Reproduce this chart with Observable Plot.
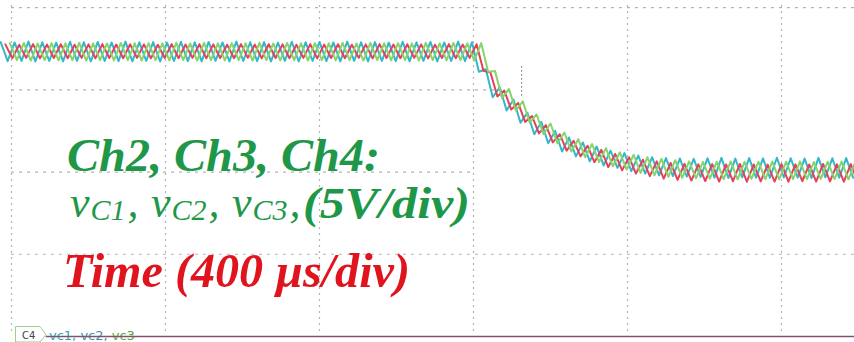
<!DOCTYPE html>
<html>
<head>
<meta charset="utf-8">
<script src="https://cdn.jsdelivr.net/npm/d3@7"></script>
<script src="https://cdn.jsdelivr.net/npm/@observablehq/plot@0.6"></script>
<style>
  html, body { margin: 0; padding: 0; background: #fff; }
  #wrap { position: relative; width: 854px; height: 342px; overflow: hidden; background: #fff; }
</style>
</head>
<body>
<div id="wrap"></div>
<script>
// ---- acquisition (time in µs, 400 µs/div; voltage in V, 5 V/div) ----
const sampleStartUs = -28;
const sampleStepUs = 18;
const channelNames = ["vc1", "vc2", "vc3"];
const channelOffsetUs = [0, 12, 24];
const channelColors = ["#32b8c9", "#e5405c", "#86d46a"];

// vertex voltages (alternating ripple peaks / troughs)
const vc1 = [
  17.90,16.74,17.88,16.76,17.93,16.72,17.89,16.75,17.87,16.73,
  17.92,16.76,17.89,16.72,17.91,16.75,17.88,16.74,17.93,16.73,
  17.89,16.76,17.90,16.72,17.87,16.75,17.92,16.74,17.89,16.73,
  17.91,16.76,17.88,16.72,17.93,16.75,17.89,16.74,17.90,16.73,
  17.87,16.76,17.92,16.72,17.89,16.75,17.91,16.74,17.88,16.73,
  17.93,16.76,17.89,16.72,17.90,16.75,17.87,16.74,17.92,16.73,
  17.89,16.76,17.91,16.72,17.88,16.75,17.93,16.74,17.89,
  16.10,16.25,14.55,15.15,13.75,14.40,13.00,13.60,12.30,13.05,
  11.75,12.50,11.25,12.10,10.95,11.80,10.65,11.55,10.40,11.30,
  10.25,11.15,10.05,11.00,9.90,10.90,9.80,10.85,9.75,10.82,
  9.72,10.80,9.70,
  10.84,9.66,10.86,9.64,10.82,9.68,10.85,9.66,10.83,9.65,
  10.87,9.67,10.84,9.66,10.82,9.64,10.86,9.68,10.84,9.66,
  10.85,9.65
];
const vc2 = [
  17.76,16.92,17.74,16.94,17.78,16.91,17.75,16.93,17.77,16.92,
  17.74,16.94,17.76,16.91,17.78,16.93,17.75,16.92,17.77,16.94,
  17.76,16.91,17.74,16.93,17.78,16.92,17.75,16.94,17.77,16.91,
  17.76,16.93,17.74,16.92,17.78,16.94,17.75,16.91,17.77,16.93,
  17.76,16.92,17.74,16.94,17.78,16.91,17.75,16.93,17.77,16.92,
  17.74,16.94,17.76,16.91,17.78,16.93,17.75,16.92,17.77,16.94,
  17.76,16.91,17.74,16.93,17.78,16.92,17.75,16.94,17.77,
  16.15,16.05,14.60,14.95,13.80,14.20,13.05,13.40,12.35,12.85,
  11.80,12.30,11.30,11.90,10.95,11.60,10.60,11.35,10.30,11.10,
  10.10,10.90,9.90,10.75,9.75,10.65,9.60,10.55,9.52,10.50,
  9.48,10.47,9.45,
  10.48,9.42,10.46,9.44,10.49,9.41,10.47,9.43,10.45,9.42,
  10.48,9.41,10.47,9.44,10.46,9.42,10.49,9.43,10.47,9.41,
  10.48,9.42
];
const vc3 = [
  17.83,16.80,17.85,16.78,17.82,16.81,17.84,16.79,17.83,16.80,
  17.86,16.78,17.83,16.81,17.82,16.79,17.85,16.80,17.83,16.78,
  17.84,16.81,17.83,16.79,17.86,16.80,17.82,16.78,17.85,16.81,
  17.83,16.79,17.84,16.80,17.83,16.78,17.86,16.81,17.82,16.79,
  17.85,16.80,17.83,16.78,17.84,16.81,17.83,16.79,17.86,16.80,
  17.82,16.78,17.85,16.81,17.83,16.79,17.84,16.80,17.83,16.78,
  17.86,16.81,17.82,16.79,17.85,16.80,17.83,16.78,17.84,
  16.10,16.15,14.50,15.05,13.75,14.30,13.00,13.50,12.30,12.95,
  11.75,12.40,11.25,12.00,10.90,11.70,10.60,11.45,10.35,11.20,
  10.15,11.05,9.95,10.90,9.80,10.80,9.70,10.72,9.65,10.65,
  9.62,10.62,9.60,
  10.63,9.57,10.65,9.55,10.62,9.58,10.63,9.57,10.64,9.56,
  10.63,9.57,10.65,9.57,10.61,9.58,10.63,9.57,10.64,9.56,
  10.63,9.57
];
const channelValues = [vc1, vc2, vc3];

// graticule
const xDivUs = [0, 400, 800, 1200, 1600, 2000];
const yDivV = [20, 15, 10, 5];
const yDivEndUs = [2200, 1300, 1200, 2200];
const groundV = 0;
const cursorUs = 1325;
const cursorSpanV = [14.6, 16.5];

// ---- build the table ----
const rows = [];
channelNames.forEach((ch, i) => {
  channelValues[i].forEach((v, k) => {
    rows.push({ch, t: sampleStartUs + channelOffsetUs[i] + k * sampleStepUs, v});
  });
});
const gridRows = yDivV.map((v, i) => ({v, x2: yDivEndUs[i]}));

const gridStroke = "#b4b4b4";
const plot = Plot.plot({
  width: 854,
  height: 342,
  margin: 0,
  style: {background: "#fff", overflow: "hidden"},
  x: {domain: [-28.6, 2189.6], axis: null},
  y: {domain: [-0.365, 20.43], axis: null},
  color: {domain: channelNames, range: channelColors},
  marks: [
    Plot.ruleX(xDivUs, {stroke: gridStroke, strokeWidth: 1.2, strokeDasharray: "2,4", y1: 0.3, y2: 20.2}),
    Plot.ruleY(gridRows, {y: "v", x1: 0, x2: "x2", stroke: gridStroke, strokeWidth: 1.2, strokeDasharray: "3,5"}),
    Plot.ruleX([cursorUs], {y1: cursorSpanV[0], y2: cursorSpanV[1], stroke: "#888", strokeWidth: 1, strokeDasharray: "2,2"}),
    Plot.line(rows, {x: "t", y: "v", z: "ch", stroke: "ch", strokeWidth: 2, clip: true, curve: "linear"}),
    Plot.ruleY([groundV], {x1: 90, x2: 2200, stroke: "#85506e", strokeWidth: 1.3})
  ]
});
const wrap = document.getElementById("wrap");
wrap.appendChild(plot);

// ---- annotations ----
const svg = d3.select(plot);
const green = "#1f9748", red = "#e0141e";
const ann = svg.append("g")
  .attr("font-family", "'Liberation Serif', 'Times New Roman', serif")
  .attr("font-style", "italic")
  .attr("text-anchor", "start");
ann.append("text").attr("x", 67).attr("y", 171).attr("font-size", 47).attr("font-weight", "bold")
  .attr("fill", green).attr("textLength", 313).attr("lengthAdjust", "spacingAndGlyphs").text("Ch2, Ch3, Ch4:");
[["C1", 70], ["C2", 151], ["C3", 232]].forEach(([sub, x]) => {
  const t = ann.append("text").attr("x", x).attr("y", 217).attr("fill", green).attr("font-size", 44);
  t.append("tspan").text("v");
  t.append("tspan").attr("font-size", 30).attr("dy", 3).attr("dx", 1).text(sub);
  t.append("tspan").attr("dy", -3).attr("dx", 2).text(",");
});
ann.append("text").attr("x", 303).attr("y", 218).attr("font-size", 44).attr("font-weight", "bold")
  .attr("fill", green).attr("textLength", 167).attr("lengthAdjust", "spacingAndGlyphs").text("(5V/div)");
ann.append("text").attr("x", 63).attr("y", 287).attr("font-size", 48).attr("font-weight", "bold")
  .attr("fill", red).attr("textLength", 347).attr("lengthAdjust", "spacingAndGlyphs").text("Time (400 µs/div)");

// channel ground marker
const mk = svg.append("g").attr("text-anchor", "start");
mk.append("path").attr("d", "M15.5,326.5 H40 L46,334.5 L40,342 H15.5 Z").attr("fill", "#fff").attr("stroke", "#9fcf8f").attr("stroke-width", 1);
mk.append("text").attr("x", 22).attr("y", 339).attr("font-family", "'DejaVu Sans', sans-serif").attr("font-size", 10).attr("fill", "#444").text("C4");
const lbl = mk.append("text").attr("x", 49).attr("y", 340).attr("font-family", "'DejaVu Sans', sans-serif").attr("font-size", 13);
lbl.append("tspan").attr("fill", "#2aa6b8").text("vc1, ");
lbl.append("tspan").attr("fill", "#3f8fa8").text("vc2, ");
lbl.append("tspan").attr("fill", "#55a948").text("vc3");
mk.append("line").attr("x1", 46).attr("x2", 160).attr("y1", 336.5).attr("y2", 336.5).attr("stroke", "#85506e").attr("stroke-width", 1.2);
</script>
</body>
</html>
